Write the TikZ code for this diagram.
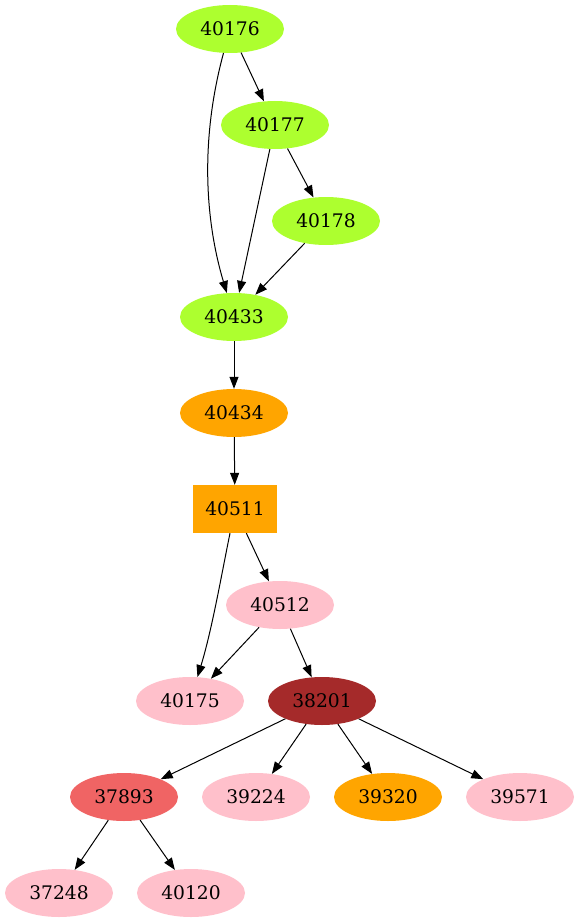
\documentclass[tikz,border=0pt]{standalone}
\usepackage{fontspec}
\setmainfont{DejaVu Serif}
\usepackage{tikz}
\usetikzlibrary{arrows.meta, shapes.geometric}
\usepackage{xcolor}
\definecolor{depGreen}{HTML}{ADFF2F}
\definecolor{depOrange}{HTML}{FFA500}
\definecolor{depPink}{HTML}{FFC0CB}
\definecolor{depBrown}{HTML}{A52A2A}
\definecolor{depCoral}{HTML}{F06464}

\begin{document}
\begin{tikzpicture}[x=1pt, y=-1pt, font=\fontsize{18.7}{20}\selectfont,
    nodo/.style={ellipse, minimum width=108pt, minimum height=48pt, inner sep=0pt},
    caja/.style={rectangle, minimum width=84pt, minimum height=48pt, inner sep=0pt},
    flecha/.style={-{Triangle[length=12pt, width=9pt]}, line width=1pt}]
        \useasboundingbox (0,0) rectangle (579,923);
        \foreach \nombre/\x/\y/\col in {%
          40176/230/29/depGreen,
          40177/275/125/depGreen,
          40178/326/221/depGreen,
          40433/234/317/depGreen,
          40434/234/413/depOrange,
          40512/280/605/depPink,
          40175/190/701/depPink,
          38201/322/701/depBrown,
          37893/124/797/depCoral,
          39224/256/797/depPink,
          39320/388/797/depOrange,
          39571/520/797/depPink,
          37248/59/893/depPink,
          40120/191/893/depPink%
        } {
          \node[nodo, fill=\col] (n\nombre) at (\x,\y) {\nombre};
        }
        \node[caja, fill=depOrange] (n40511) at (235,509) {40511};
        \foreach \a/\b in {%
          40176/40177, 40177/40433, 40177/40178, 40178/40433,
          40433/40434, 40434/40511, 40511/40512, 40512/40175,
          40512/38201, 38201/37893, 38201/39224, 38201/39320,
          38201/39571, 37893/37248, 37893/40120%
        } {
          \draw[flecha] (n\a) -- (n\b);
        }
        \draw[flecha] (n40176) .. controls (200,140) and (205,220) .. (n40433);
        \draw[flecha] (n40511) .. controls (222,572) and (212,630) .. (n40175);
      \end{tikzpicture}
\end{document}
